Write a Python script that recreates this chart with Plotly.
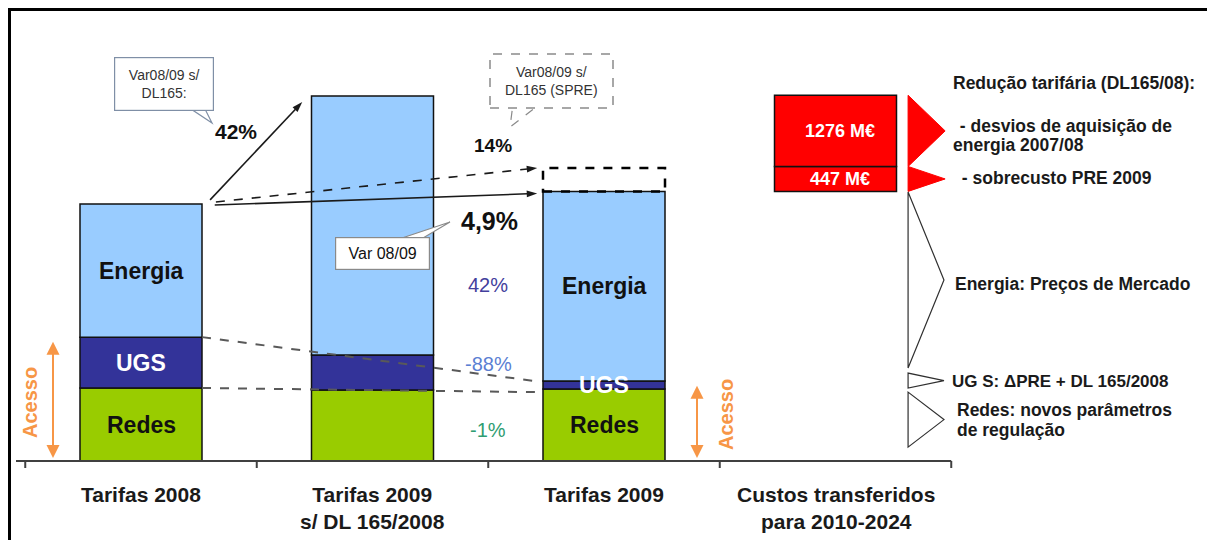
import plotly.graph_objects as go

# ---------------- data ----------------
categories = ["Tarifas 2008", "Tarifas 2009<br>s/ DL 165/2008", "Tarifas 2009",
              "Custos transferidos<br>para 2010-2024"]
cat_x = [0, 1, 2, 3]
bar_x = [0, 1, 2]
redes = [28.4, 27.6, 28.0]
ugs = [19.8, 13.6, 3.1]
energia = [51.8, 100.8, 73.8]
spre_extra = 9.1                      # dashed box on top of "Tarifas 2009"
transfer_values = [9.7, 27.7]         # stacked transferred costs
transfer_labels = ["447 M€", "1276 M€"]
seg_labels = ["Redes", "UGS", "Energia"]
var_labels = ["42%", "-88%", "-1%"]
var_colors = ["#43409d", "#5b7fd3", "#2f9d72"]
total_labels = ["42%", "14%", "4,9%"]
white_flag_spans = [(36.2, 104.7), (28.4, 34.2), (5.4, 26.8)]
right_lines = [
    "Redução tarifária (DL165/08):",
    "\u00a0- desvios de aquisição de",
    "energia 2007/08",
    "\u00a0- sobrecusto PRE 2009",
    "Energia: Preços de Mercado",
    "UG S: \u0394PRE + DL 165/2008",
    "Redes: novos parâmetros",
    "de regulação",
]

# ---------------- geometry helpers (screen pixel -> data) ----------------
W, H = 1215, 540
OFF = 8                              # page body margin
PX_X0, PX_PER_X = 141.0, 231.5       # screen pixel of x=0, pixels per category
PY_0, PX_PER_Y = 461.0, 2.57         # screen pixel of y=0, pixels per unit


def xd(px):
    return (px - PX_X0) / PX_PER_X


def yd(py):
    return (PY_0 - py) / PX_PER_Y


xr = [xd(OFF), xd(OFF + W)]
yr = [yd(OFF + H), yd(OFF)]
bw = 0.527

totals = [r + u + e for r, u, e in zip(redes, ugs, energia)]
base_ugs = list(redes)
base_en = [r + u for r, u in zip(redes, ugs)]

C_EN, C_UGS, C_RED = "#99CCFF", "#333399", "#99CC00"
C_ORANGE = "#F79646"
FONT = "Liberation Sans, Arial, sans-serif"

fig = go.Figure()
line_k = dict(color="#111111", width=1.5)
fig.add_trace(go.Bar(x=bar_x, y=redes, base=[0, 0, 0], width=bw,
                     marker=dict(color=C_RED, line=line_k), hoverinfo="skip"))
fig.add_trace(go.Bar(x=bar_x, y=ugs, base=base_ugs, width=bw,
                     marker=dict(color=C_UGS, line=line_k), hoverinfo="skip"))
fig.add_trace(go.Bar(x=bar_x, y=energia, base=base_en, width=bw,
                     marker=dict(color=C_EN, line=line_k), hoverinfo="skip"))

# transferred costs (red stacked, floating on top of Tarifas 2009)
tb = totals[2]
t_bases = [tb, tb + transfer_values[0]]
fig.add_trace(go.Bar(x=[3, 3], y=transfer_values, base=t_bases, width=bw,
                     marker=dict(color="#FF0000", line=dict(color="#111111", width=1.5)),
                     hoverinfo="skip"))

shapes = []
# dashed top on Tarifas 2009 (SPRE)
shapes.append(dict(type="rect", xref="x", yref="y", x0=2 - bw / 2, x1=2 + bw / 2,
                   y0=totals[2], y1=totals[2] + spre_extra,
                   line=dict(color="black", width=2.5, dash="dash"), layer="above"))
# dashed guides from Tarifas 2008 to Tarifas 2009
x_end = 2 - bw / 2 - 0.035
shapes.append(dict(type="line", xref="x", yref="y", x0=bw / 2, x1=x_end,
                   y0=base_en[0], y1=base_en[2],
                   line=dict(color="#595959", width=2, dash="dash"), layer="above"))
shapes.append(dict(type="line", xref="x", yref="y", x0=bw / 2, x1=x_end,
                   y0=redes[0], y1=redes[2] - 1.2,
                   line=dict(color="#595959", width=2, dash="dash"), layer="above"))
# base axis line + ticks
shapes.append(dict(type="line", xref="x", yref="y", x0=xd(16), x1=3.5, y0=0, y1=0,
                   line=dict(color="#404040", width=2)))
for tx in [-0.5, 0.5, 1.5, 2.5, 3.5]:
    shapes.append(dict(type="line", xref="x", yref="y", x0=tx, x1=tx, y0=0,
                       y1=-7 / PX_PER_Y, line=dict(color="#404040", width=2)))
# flags
fx0 = 3 + bw / 2 + 0.05
fx1 = fx0 + 0.16
red_spans = [(t_bases[1], t_bases[1] + transfer_values[1]),
             (t_bases[0], t_bases[0] + transfer_values[0])]
for (a, b) in red_spans:
    shapes.append(dict(type="path", xref="x", yref="y",
                       path=f"M{fx0},{a} L{fx0},{b} L{fx1},{(a + b) / 2} Z",
                       fillcolor="#FF0000", line=dict(color="#FF0000", width=1)))
for (a, b) in white_flag_spans:
    shapes.append(dict(type="path", xref="x", yref="y",
                       path=f"M{fx0},{a} L{fx0},{b} L{fx1 - 0.005},{(a + b) / 2} Z",
                       fillcolor="white", line=dict(color="#303030", width=1.2)))


# callout tails
def wedge(pts, color, dash="solid"):
    p = "M" + " L".join(f"{xd(a)},{yd(b)}" for a, b in pts) + " Z"
    return dict(type="path", xref="x", yref="y", path=p, fillcolor="white",
                line=dict(color=color, width=1.2, dash=dash), layer="above")


shapes.append(wedge([(188, 107), (204, 107), (212, 123)], "#7f8fa6"))
shapes.append(wedge([(513, 104), (540, 104), (510, 127)], "#8a8a8a", "dash"))
shapes.append(dict(type="rect", xref="x", yref="y", x0=xd(490), x1=xd(613),
                   y0=yd(108), y1=yd(54), fillcolor="white",
                   line=dict(color="#8a8a8a", width=1.5, dash="dash"), layer="above"))
shapes.append(wedge([(393, 241), (418, 241), (450, 222)], "#8a8a8a"))

# frame (top and left)
shapes.append(dict(type="line", xref="paper", yref="paper", x0=0, x1=1,
                   y0=1 - 1.5 / H, y1=1 - 1.5 / H, line=dict(color="black", width=3)))
shapes.append(dict(type="line", xref="paper", yref="paper", x0=1.5 / W, x1=1.5 / W,
                   y0=0, y1=1, line=dict(color="black", width=3)))

# arrows (lines with arrow markers)
arrow_defs = [
    ([bw / 2 + 0.035, 1 - bw / 2 - 0.04], [totals[0] + 1.6, totals[1] - 2.3], "solid"),
    ([bw / 2 + 0.06, 2 - bw / 2 - 0.025], [totals[0] + 0.8, totals[2] + spre_extra], "dash"),
    ([bw / 2 + 0.055, 2 - bw / 2 - 0.025], [totals[0] - 0.4, totals[2] - 0.8], "solid"),
]
for ax_, ay_, dash in arrow_defs:
    fig.add_trace(go.Scatter(x=ax_, y=ay_, mode="lines+markers",
                             line=dict(color="#1a1a1a", width=1.6, dash=dash),
                             marker=dict(symbol="arrow", size=11, angleref="previous",
                                         color="#1a1a1a"),
                             hoverinfo="skip"))

ann = []
# category labels
for cx, lab in zip(cat_x, categories):
    ann.append(dict(x=cx, y=yd(481), xref="x", yref="y", text=f"<b>{lab}</b>",
                    showarrow=False, yanchor="top",
                    font=dict(family=FONT, size=21, color="#1a1a1a")))
# segment labels on bars 1 and 3
for i in [0, 2]:
    segs = [(0, redes[i]), (base_ugs[i], base_ugs[i] + ugs[i]),
            (base_en[i], totals[i])]
    cols = ["#111111", "white", "#111111"]
    for (a, b), lab, c in zip(segs, seg_labels, cols):
        ann.append(dict(x=i, y=(a + b) / 2, xref="x", yref="y", text=f"<b>{lab}</b>",
                        showarrow=False, font=dict(family=FONT, size=23, color=c)))
# red transfer labels
for b0, v, lab in zip(t_bases, transfer_values, transfer_labels):
    ann.append(dict(x=3.02, y=b0 + v / 2, xref="x", yref="y", text=f"<b>{lab}</b>",
                    showarrow=False, font=dict(family=FONT, size=18, color="white")))
# variation labels between bar 2 and 3
for yv, lab, c in zip([yd(285), yd(364), yd(430)], var_labels, var_colors):
    ann.append(dict(x=xd(488), y=yv, xref="x", yref="y", text=lab, showarrow=False,
                    font=dict(family=FONT, size=20, color=c)))
# total variation labels
for (px, py, sz), lab in zip([(236, 131, 21), (493, 145, 19), (489, 221, 25)], total_labels):
    ann.append(dict(x=xd(px), y=yd(py), xref="x", yref="y", text=f"<b>{lab}</b>",
                    showarrow=False, font=dict(family=FONT, size=sz, color="#111111")))
# callout boxes
ann.append(dict(x=xd(164), y=yd(84), xref="x", yref="y", text="Var08/09 s/<br>DL165:",
                showarrow=False, width=96, height=50, borderpad=1, bgcolor="white",
                bordercolor="#7f8fa6", borderwidth=1.2,
                font=dict(family=FONT, size=14, color="#333333")))
ann.append(dict(x=xd(551.5), y=yd(81), xref="x", yref="y",
                text="Var08/09 s/<br>DL165 (SPRE)", showarrow=False,
                font=dict(family=FONT, size=14, color="#333333")))
ann.append(dict(x=xd(382.5), y=yd(253.5), xref="x", yref="y", text="Var 08/09",
                showarrow=False, width=91, height=29, borderpad=1, bgcolor="white",
                bordercolor="#8a8a8a", borderwidth=1.2,
                font=dict(family=FONT, size=16, color="#111111")))
# Acesso arrows and labels
for axp, i, txp, typ in [(53, 0, 30, 403), (697, 2, 726, 415)]:
    ann.append(dict(x=xd(axp), y=1.2, ax=xd(axp), ay=base_en[i] - 1.2,
                    xref="x", yref="y", axref="x", ayref="y", text="",
                    showarrow=True, arrowside="end+start", arrowhead=2,
                    arrowsize=1.3, arrowwidth=2, arrowcolor=C_ORANGE))
    ann.append(dict(x=xd(txp), y=yd(typ), xref="x", yref="y", text="<b>Acesso</b>",
                    textangle=-90, showarrow=False,
                    font=dict(family=FONT, size=20, color=C_ORANGE)))
# right-hand texts
for (px, py, sz), t in zip([(951, 83, 17.5), (953, 126, 17.5), (951, 145, 17.5),
                            (955, 178, 17.5), (953, 284, 17.5), (950, 381, 17),
                            (955, 410, 17.5), (955, 430, 17.5)],
                           right_lines):
    ann.append(dict(x=xd(px), y=yd(py), xref="x", yref="y", text=f"<b>{t}</b>",
                    showarrow=False, xanchor="left", align="left",
                    font=dict(family=FONT, size=sz, color="#1a1a1a")))

fig.update_layout(
    width=W, height=H, barmode="overlay", showlegend=False,
    margin=dict(l=0, r=0, t=0, b=0),
    plot_bgcolor="white", paper_bgcolor="white",
    xaxis=dict(range=xr, visible=False, fixedrange=True),
    yaxis=dict(range=yr, visible=False, fixedrange=True),
    shapes=shapes, annotations=ann,
)
fig.write_html("out.html")
